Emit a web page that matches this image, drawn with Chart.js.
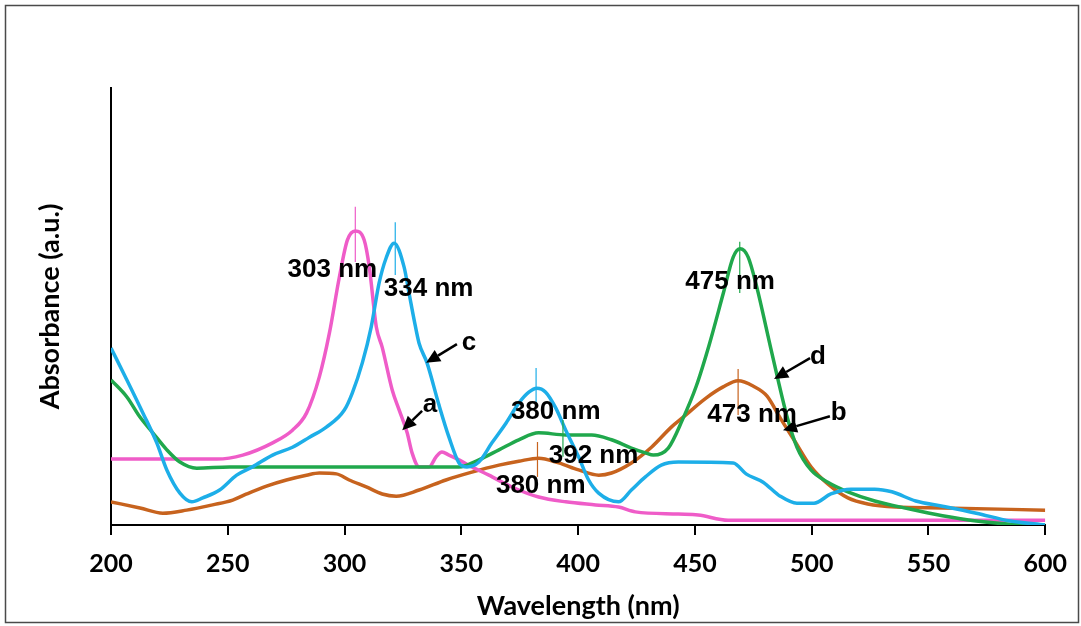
<!DOCTYPE html>
<html>
<head>
<meta charset="utf-8">
<script src="https://cdn.jsdelivr.net/npm/chart.js@4.4.1/dist/chart.umd.min.js"></script>
<style>
  html, body { margin: 0; padding: 0; background: #ffffff; }
  #wrap { width: 1081px; height: 626px; position: relative; }
</style>
</head>
<body>
<div id="wrap"><canvas id="chart" width="1081" height="626"></canvas></div>
<script>
// ---------- DATA (wavelength in nm, absorbance in a.u.) ----------
const xTicks = [200, 250, 300, 350, 400, 450, 500, 550, 600];

// curve a (pink)
const aNm  = [200, 245.3, 256.4, 269.2, 277.7, 283.7, 289.2, 293.5, 297.8, 301.2, 304.6, 308.4, 310.6, 313.6, 316.1, 320.4, 323.4, 326.8, 328.9, 331.9, 336.2, 339.2, 341.7, 344.7, 349.0, 354.5, 361.8, 371.6, 383.1, 394.7, 407.5, 417.3, 424.5, 442.9, 451.4, 464.2, 600];
const aAbs = [0.151, 0.151, 0.160, 0.188, 0.217, 0.256, 0.339, 0.439, 0.568, 0.652, 0.673, 0.652, 0.590, 0.453, 0.407, 0.309, 0.263, 0.211, 0.165, 0.133, 0.133, 0.156, 0.167, 0.160, 0.149, 0.133, 0.114, 0.087, 0.064, 0.053, 0.046, 0.041, 0.030, 0.025, 0.023, 0.011, 0.011];

// curve b (orange)
const bNm  = [200, 212.4, 222.2, 232.4, 243.5, 252.1, 258.1, 266.6, 275.1, 283.7, 289.2, 296.5, 302.0, 309.3, 316.1, 322.1, 331.9, 343.4, 354.5, 366.1, 374.6, 383.1, 391.7, 400.2, 408.8, 414.3, 422.8, 431.4, 439.9, 444.6, 454.9, 462.1, 468.5, 474.9, 480.9, 486.5, 492.4, 499.7, 506.9, 515.5, 524.0, 536.0, 556.0, 600];
const bAbs = [0.053, 0.039, 0.027, 0.034, 0.046, 0.057, 0.071, 0.089, 0.103, 0.114, 0.119, 0.117, 0.103, 0.087, 0.071, 0.066, 0.080, 0.103, 0.121, 0.137, 0.146, 0.153, 0.142, 0.126, 0.114, 0.119, 0.142, 0.178, 0.224, 0.245, 0.291, 0.316, 0.330, 0.318, 0.295, 0.245, 0.195, 0.133, 0.094, 0.062, 0.048, 0.041, 0.039, 0.034];

// curve c (blue)
const cNm  = [200, 206.8, 213.7, 219.6, 223.9, 229.5, 234.6, 239.3, 246.5, 253.8, 260.6, 269.2, 277.7, 285.0, 292.2, 299.9, 303.3, 307.6, 311.4, 314.8, 317.8, 321.2, 325.5, 327.6, 329.8, 331.9, 335.3, 340.4, 344.7, 349.0, 352.4, 357.5, 363.1, 369.1, 374.6, 378.9, 382.3, 386.1, 390.4, 394.7, 400.2, 404.5, 408.8, 417.3, 422.8, 428.8, 435.6, 442.9, 466.4, 471.9, 479.2, 486.5, 493.7, 501.0, 508.2, 516.8, 527.0, 534.3, 544.5, 556.0, 570.5, 585.1, 600];
const cAbs = [0.405, 0.332, 0.256, 0.188, 0.126, 0.073, 0.053, 0.062, 0.080, 0.114, 0.133, 0.160, 0.178, 0.201, 0.224, 0.263, 0.302, 0.371, 0.453, 0.554, 0.611, 0.645, 0.590, 0.531, 0.469, 0.416, 0.371, 0.275, 0.201, 0.142, 0.133, 0.144, 0.188, 0.233, 0.279, 0.304, 0.313, 0.304, 0.268, 0.217, 0.156, 0.103, 0.073, 0.053, 0.080, 0.110, 0.137, 0.144, 0.142, 0.117, 0.098, 0.066, 0.050, 0.050, 0.071, 0.082, 0.082, 0.076, 0.055, 0.043, 0.027, 0.009, 0.000];

// curve d (green)
const dNm  = [200, 206.8, 212.4, 217.9, 223.9, 229.5, 236.7, 250.8, 280.7, 323.4, 349.0, 357.5, 366.1, 374.6, 383.1, 394.7, 405.8, 414.3, 422.8, 428.8, 432.2, 438.6, 444.6, 450.6, 456.1, 462.1, 466.4, 469.4, 472.8, 476.6, 480.9, 485.2, 489.4, 493.7, 499.7, 506.9, 515.5, 527.0, 541.5, 556.0, 570.5, 585.1, 600];
const dAbs = [0.332, 0.293, 0.247, 0.211, 0.172, 0.144, 0.130, 0.133, 0.133, 0.133, 0.133, 0.149, 0.172, 0.195, 0.211, 0.206, 0.206, 0.195, 0.176, 0.165, 0.160, 0.176, 0.240, 0.318, 0.412, 0.529, 0.613, 0.632, 0.613, 0.542, 0.442, 0.341, 0.249, 0.178, 0.126, 0.098, 0.076, 0.055, 0.037, 0.021, 0.009, 0.002, 0.000];

// peak labels (text, anchor nm, anchor absorbance)
const peakTexts = ['303 nm', '334 nm', '380 nm', '392 nm', '380 nm', '475 nm', '473 nm'];
const peakTextNm  = [294.8, 336.0, 390.4, 406.6, 384.0, 465.1, 474.5];
const peakTextAbs = [0.584, 0.540, 0.259, 0.158, 0.089, 0.556, 0.252];

// peak marker ticks (nm, from abs, to abs, series)
const markNm   = [304.6, 321.7, 382.0, 393.5, 382.6, 469.2, 468.5];
const markFrom = [0.602, 0.572, 0.275, 0.156, 0.110, 0.531, 0.252];
const markTo   = [0.728, 0.693, 0.359, 0.240, 0.190, 0.648, 0.357];
const markSeries = ['a', 'c', 'c', 'd', 'b', 'd', 'b'];

// curve letters with arrows
const letters      = ['a', 'b', 'c', 'd'];
const letterNm     = [336.6, 511.6, 353.3, 502.7];
const letterAbs    = [0.275, 0.256, 0.416, 0.384];
const arrowFromNm  = [333.2, 507.8, 348.1, 499.3];
const arrowFromAbs = [0.261, 0.249, 0.414, 0.382];
const arrowToNm    = [324.7, 487.7, 334.9, 483.9];
const arrowToAbs   = [0.217, 0.217, 0.371, 0.334];

// ---------- STYLE ----------
const colors = { a: '#EF5CC8', b: '#C7631E', c: '#1DAEE8', d: '#20A84C' };

function pts(xs, ys) { return xs.map((x, i) => ({ x: x, y: ys[i] })); }

const annotPlugin = {
  id: 'annot',
  beforeDraw(chart) {
    const ctx = chart.ctx;
    ctx.save();
    ctx.fillStyle = '#ffffff';
    ctx.fillRect(0, 0, chart.width, chart.height);
    ctx.strokeStyle = '#4a4a4a';
    ctx.lineWidth = 1.5;
    ctx.strokeRect(5.5, 5.5, 1073, 617);
    ctx.restore();
  },
  afterDatasetsDraw(chart) {
    const ctx = chart.ctx;
    const xs = chart.scales.x, ys = chart.scales.y;
    ctx.save();
    // marker ticks
    ctx.lineWidth = 1.2;
    for (let i = 0; i < markNm.length; i++) {
      const px = xs.getPixelForValue(markNm[i]);
      ctx.strokeStyle = colors[markSeries[i]];
      ctx.beginPath();
      ctx.moveTo(px, ys.getPixelForValue(markFrom[i]));
      ctx.lineTo(px, ys.getPixelForValue(markTo[i]));
      ctx.stroke();
    }
    // peak labels
    ctx.fillStyle = '#000000';
    ctx.font = 'bold 26px "Liberation Sans", Arial, sans-serif';
    ctx.textAlign = 'center';
    ctx.textBaseline = 'middle';
    for (let i = 0; i < peakTexts.length; i++) {
      ctx.fillText(peakTexts[i], xs.getPixelForValue(peakTextNm[i]), ys.getPixelForValue(peakTextAbs[i]));
    }
    // letters + arrows
    for (let i = 0; i < letters.length; i++) {
      ctx.fillText(letters[i], xs.getPixelForValue(letterNm[i]), ys.getPixelForValue(letterAbs[i]));
      const x0 = xs.getPixelForValue(arrowFromNm[i]), y0 = ys.getPixelForValue(arrowFromAbs[i]);
      const x1 = xs.getPixelForValue(arrowToNm[i]),   y1 = ys.getPixelForValue(arrowToAbs[i]);
      const ang = Math.atan2(y1 - y0, x1 - x0);
      const headLen = 14, headW = 6.5;
      const bx = x1 - headLen * Math.cos(ang), by = y1 - headLen * Math.sin(ang);
      ctx.strokeStyle = '#000000';
      ctx.lineWidth = 2.5;
      ctx.beginPath();
      ctx.moveTo(x0, y0);
      ctx.lineTo(bx, by);
      ctx.stroke();
      ctx.beginPath();
      ctx.moveTo(x1, y1);
      ctx.lineTo(bx + headW * Math.sin(ang), by - headW * Math.cos(ang));
      ctx.lineTo(bx - headW * Math.sin(ang), by + headW * Math.cos(ang));
      ctx.closePath();
      ctx.fill();
    }
    ctx.restore();
  }
};

function ds(label, xs, ys, color) {
  return {
    label: label,
    data: pts(xs, ys),
    borderColor: color,
    backgroundColor: color,
    borderWidth: 3.5,
    pointRadius: 0,
    fill: false,
    cubicInterpolationMode: 'monotone'
  };
}

new Chart(document.getElementById('chart'), {
  type: 'line',
  data: {
    datasets: [
      ds('c', cNm, cAbs, colors.c),
      ds('d', dNm, dAbs, colors.d),
      ds('a', aNm, aAbs, colors.a),
      ds('b', bNm, bAbs, colors.b)
    ]
  },
  options: {
    responsive: false,
    animation: false,
    devicePixelRatio: 1,
    layout: { padding: { left: 0, top: 88, right: 34, bottom: 0 } },
    plugins: { legend: { display: false }, tooltip: { enabled: false } },
    scales: {
      x: {
        type: 'linear',
        min: 200, max: 600,
        afterBuildTicks(scale) { scale.ticks = xTicks.map(v => ({ value: v })); },
        afterFit(scale) { scale.height = 101; },
        border: { display: true, color: '#000000', width: 2 },
        grid: { display: true, drawOnChartArea: false, drawTicks: true, tickLength: 10, color: '#000000', lineWidth: 2 },
        ticks: { color: '#000000', padding: 14, maxRotation: 0, font: { family: 'Lato', weight: 'bold', size: 25 } },
        title: { display: true, text: 'Wavelength (nm)', color: '#000000', padding: { top: 0, bottom: 4 }, font: { family: 'Lato', weight: 'bold', size: 27 } }
      },
      y: {
        type: 'linear',
        min: 0, max: 1,
        afterFit(scale) { scale.width = 111; },
        border: { display: true, color: '#000000', width: 2 },
        grid: { display: false },
        ticks: { display: false },
        title: { display: true, text: 'Absorbance (a.u.)', color: '#000000', padding: { top: 34, bottom: 0 }, font: { family: 'Lato', weight: 'bold', size: 27 } }
      }
    }
  },
  plugins: [annotPlugin]
});
</script>
</body>
</html>
